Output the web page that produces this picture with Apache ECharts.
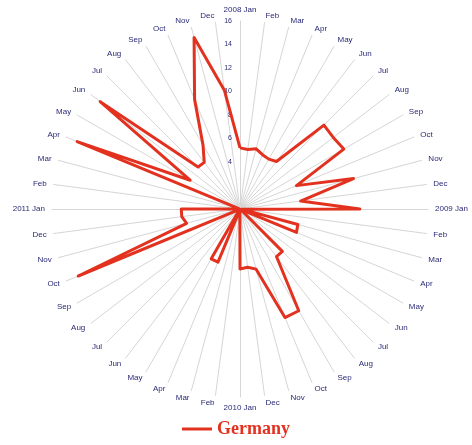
<!DOCTYPE html>
<html>
<head>
<meta charset="utf-8">
<script src="https://cdn.jsdelivr.net/npm/echarts@6/dist/echarts.min.js"></script>
<style>
html,body{margin:0;padding:0;background:#fff;}
#chart{width:472px;height:445px;}
</style>
</head>
<body>
<div id="chart"></div>
<script>
// Month labels, chronological (clockwise from top): 2008 Jan ... 2011 Dec
var years = ['2008', '2009', '2010', '2011'];
var monthNames = ['Jan', 'Feb', 'Mar', 'Apr', 'May', 'Jun', 'Jul', 'Aug', 'Sep', 'Oct', 'Nov', 'Dec'];
// Germany values, chronological
var germany2008 = [5.2, 5.1, 5.3, 5.0, 4.9, 5.1, 10.1, 10.0, 10.2, 5.2, 10.0, 5.2];
var germany2009 = [10.2, 0.1, 5.1, 5.2, 0.1, 0.1, 5.1, 5.1, 10.0, 10.0, 5.3, 5.0];
var germany2010 = [5.1, 0.1, 0.1, 4.9, 4.9, 0.1, 0.1, 0.1, 0.1, 14.9, 4.7, 5.0];
var germany2011 = [5.0, 0.1, 0.1, 15.0, 4.9, 15.0, 5.05, 5.0, 6.3, 10.1, 15.1, 10.2];
var seriesName = 'Germany';
var radialMax = 16;
var radialTicks = [0, 2, 4, 6, 8, 10, 12, 14, 16];

var labels = [];
years.forEach(function (y) {
  monthNames.forEach(function (m, i) { labels.push(i === 0 ? y + ' Jan' : m); });
});
var values = germany2008.concat(germany2009, germany2010, germany2011);

// ECharts radar runs counter-clockwise; reorder so months run clockwise
var order = [0];
for (var k = labels.length - 1; k >= 1; k--) order.push(k);
var indicators = order.map(function (i) { return { name: labels[i], max: radialMax, min: 0 }; });
var ordValues = order.map(function (i) { return values[i]; });

var chart = echarts.init(document.getElementById('chart'));
chart.setOption({
  animation: false,
  backgroundColor: '#ffffff',
  legend: {
    data: [seriesName],
    bottom: 2,
    left: 'center',
    icon: 'rect',
    itemWidth: 30,
    itemHeight: 3,
    itemGap: 4,
    textStyle: { color: '#e2321f', fontSize: 18, fontWeight: 'bold', fontFamily: 'Liberation Serif' }
  },
  radar: {
    center: [240, 209],
    radius: 188,
    startAngle: 90,
    shape: 'circle',
    splitNumber: 8,
    indicator: indicators,
    axisName: { color: '#2a2a76', fontSize: 8, fontFamily: 'Liberation Sans' },
    nameGap: 7,
    axisLine: { lineStyle: { color: '#d6d6d6', width: 1 } },
    splitLine: { show: false },
    splitArea: { show: false },
    axisTick: { show: false },
    axisLabel: { show: false }
  },
  polar: { center: [240, 209], radius: 188 },
  angleAxis: { type: 'value', min: 0, max: 360, startAngle: 90, show: false },
  radiusAxis: {
    type: 'value', min: 0, max: radialMax, interval: 2,
    axisLine: { show: false }, axisTick: { show: false }, splitLine: { show: false },
    axisLabel: {
      fontSize: 7, color: '#2a2a76', fontFamily: 'Liberation Sans',
      formatter: function (v) { return radialTicks.indexOf(v) >= 2 ? String(v) : ''; }
    }
  },
  series: [{
    type: 'radar',
    name: seriesName,
    symbol: 'none',
    lineStyle: { color: '#e2321f', width: 3 },
    itemStyle: { color: '#e2321f' },
    data: [{ name: seriesName, value: ordValues }]
  }]
});
</script>
</body>
</html>
